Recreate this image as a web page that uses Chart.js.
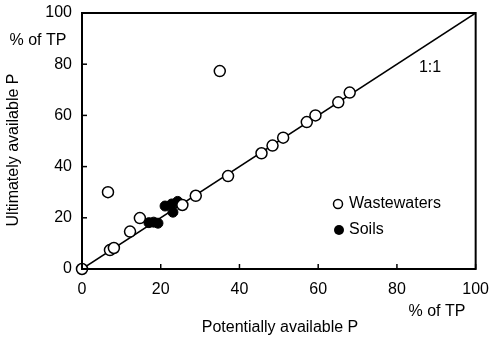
<!DOCTYPE html>
<html>
<head>
<meta charset="utf-8">
<script src="https://cdn.jsdelivr.net/npm/chart.js@4.4.1/dist/chart.umd.min.js"></script>
<style>
  html, body { margin: 0; padding: 0; background: #fff; }
  #wrap { width: 492px; height: 341px; }
</style>
</head>
<body>
<div id="wrap"><canvas id="myChart" width="492" height="341"></canvas></div>
<script>
// data (% of TP)
const wasteX = [0, 6.6, 7.1, 8.1, 12.2, 14.7, 35, 25.5, 28.9, 37.1, 45.6, 48.4, 51.1, 57.1, 59.3, 65.1, 68];
const wasteY = [0, 30, 7.4, 8.2, 14.6, 19.9, 77.3, 25, 28.6, 36.3, 45.2, 48.2, 51.3, 57.4, 60, 65.1, 68.9];
const soilX = [17, 18.2, 19.3, 21.1, 22.8, 23.1, 24.3];
const soilY = [18.1, 18.3, 17.9, 24.6, 25.4, 22.2, 26.4];
const lineX = [0, 100];
const lineY = [0, 100];
const tickValues = [0, 20, 40, 60, 80, 100];

const FONT = '"Liberation Sans", Arial, sans-serif';

function toPoints(xs, ys) {
  return xs.map((x, i) => ({ x: x, y: ys[i] }));
}

// frame, inward ticks and all the loose text
const extras = {
  id: 'extras',
  afterDraw(chart) {
    const ctx = chart.ctx;
    const a = chart.chartArea;
    const xs = chart.scales.x, ys = chart.scales.y;
    ctx.save();
    ctx.strokeStyle = '#000';
    ctx.lineWidth = 2;
    ctx.strokeRect(a.left, a.top, a.right - a.left, a.bottom - a.top);
    ctx.lineWidth = 1.5;
    tickValues.forEach(v => {
      const px = xs.getPixelForValue(v);
      ctx.beginPath(); ctx.moveTo(px, a.bottom); ctx.lineTo(px, a.bottom - 5); ctx.stroke();
      const py = ys.getPixelForValue(v);
      ctx.beginPath(); ctx.moveTo(a.left, py); ctx.lineTo(a.left + 5, py); ctx.stroke();
    });

    ctx.fillStyle = '#000';
    ctx.font = '16px ' + FONT;
    ctx.textBaseline = 'middle';
    ctx.textAlign = 'center';
    ctx.fillText('1:1', 430, 68);
    ctx.fillText('% of TP', 437, 312);
    ctx.fillText('% of TP', 38, 41);
    ctx.fillText('Potentially available P', 280, 328);

    ctx.save();
    ctx.translate(14, 150);
    ctx.rotate(-Math.PI / 2);
    ctx.fillText('Ultimately available P', 0, 0);
    ctx.restore();

    // legend
    ctx.textAlign = 'left';
    ctx.lineWidth = 1.5;
    ctx.beginPath(); ctx.arc(338, 204, 4.5, 0, Math.PI * 2);
    ctx.fillStyle = '#fff'; ctx.fill(); ctx.stroke();
    ctx.beginPath(); ctx.arc(339, 230, 5, 0, Math.PI * 2);
    ctx.fillStyle = '#000'; ctx.fill();
    ctx.fillText('Wastewaters', 349, 204);
    ctx.fillText('Soils', 349, 230);
    ctx.restore();
  }
};

const ctx = document.getElementById('myChart').getContext('2d');
const myChart = new Chart(ctx, {
  type: 'scatter',
  data: {
    datasets: [{
      label: '1:1',
      data: toPoints(lineX, lineY),
      showLine: true,
      borderColor: '#000',
      borderWidth: 1.5,
      pointRadius: 0,
      order: 3
    }, {
      label: 'Soils',
      data: toPoints(soilX, soilY),
      backgroundColor: '#000',
      borderColor: '#000',
      borderWidth: 1,
      pointRadius: 5,
      clip: false,
      order: 2
    }, {
      label: 'Wastewaters',
      data: toPoints(wasteX, wasteY),
      backgroundColor: '#fff',
      borderColor: '#000',
      borderWidth: 1.5,
      pointRadius: 5.5,
      clip: false,
      order: 1
    }]
  },
  options: {
    responsive: false,
    animation: false,
    layout: { padding: { left: 0, right: 16, top: 13, bottom: 0 } },
    plugins: {
      legend: { display: false },
      tooltip: { enabled: false }
    },
    scales: {
      x: {
        type: 'linear',
        min: 0, max: 100,
        afterBuildTicks: s => { s.ticks = tickValues.map(v => ({ value: v })); },
        afterFit: s => { s.height = 72; },
        grid: { display: false },
        border: { display: false },
        ticks: { color: '#000', font: { family: FONT, size: 16 }, padding: 3, maxRotation: 0 }
      },
      y: {
        type: 'linear',
        min: 0, max: 100,
        afterBuildTicks: s => { s.ticks = tickValues.map(v => ({ value: v })); },
        afterFit: s => { s.width = 82; },
        grid: { display: false },
        border: { display: false },
        ticks: { color: '#000', font: { family: FONT, size: 16 }, padding: 2 }
      }
    }
  },
  plugins: [extras]
});
</script>
</body>
</html>
